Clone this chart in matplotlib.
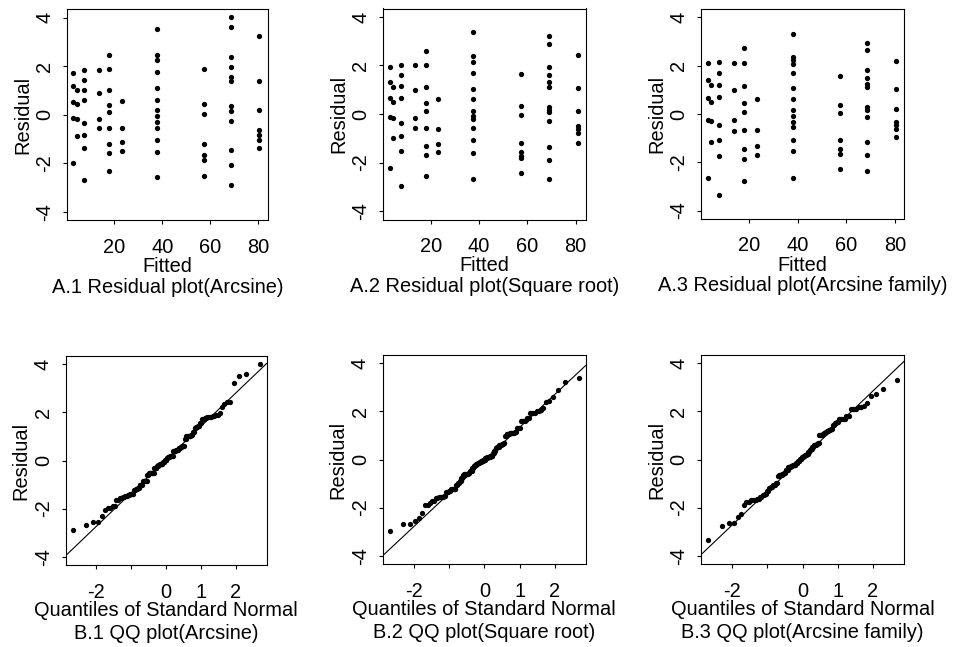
import numpy as np
import matplotlib
matplotlib.use('Agg')
import matplotlib.pyplot as plt
from matplotlib.transforms import offset_copy
from statistics import NormalDist

plt.rcParams['font.family'] = ['Liberation Sans', 'DejaVu Sans']
plt.rcParams['axes.unicode_minus'] = False

# ---------------- data ----------------
# A.1 Arcsine: fitted value of each group, residuals in each group,
# and how many observations sit (overlapping) on each visible dot
fit_a1 = [2.9, 4.3, 7.5, 13.6, 17.8, 23.1, 37.7, 57.4, 68.6, 80.4]
res_a1 = [
    [1.71, 1.17, 0.54, -0.14, -1.97],
    [1.03, 0.43, -0.19, -0.87],
    [1.83, 1.42, 1.03, 0.61, -0.33, -0.84, -1.38, -2.67],
    [1.83, 0.88, -0.16, -0.54],
    [2.45, 1.90, 1.03, 0.41, 0.11, -0.54, -1.20, -1.57, -2.33],
    [0.58, -0.54, -1.14, -1.48],
    [3.53, 2.44, 2.24, 1.76, 1.08, 0.62, 0.19, -0.05, -0.30, -0.54, -1.04, -1.53, -2.56],
    [1.87, 0.45, 0.03, -1.22, -1.65, -1.88, -2.54],
    [4.01, 3.59, 2.37, 1.97, 1.56, 1.37, 0.38, 0.15, -0.24, -1.45, -2.06, -2.90],
    [3.23, 1.40, 0.20, -0.61, -0.84, -1.02, -1.38],
]
cnt_a1 = [
    [2, 2, 3, 3, 2],
    [2, 2, 2, 2],
    [2, 2, 2, 2, 2, 2, 2, 1],
    [2, 2, 2, 2],
    [1, 2, 2, 2, 2, 2, 2, 2, 1],
    [2, 2, 2, 2],
    [1, 1, 1, 2, 2, 2, 2, 3, 2, 2, 2, 2, 1],
    [2, 2, 3, 2, 2, 2, 1],
    [1, 1, 1, 1, 2, 2, 2, 3, 2, 2, 1, 1],
    [1, 2, 3, 2, 2, 2, 2],
]

# A.2 Square root
fit_a2 = [3.2, 4.3, 7.6, 13.4, 17.9, 23.1, 37.6, 57.5, 69.1, 81.1]
res_a2 = [
    [1.92, 1.33, 0.64, -0.11, -2.23],
    [1.12, 0.51, -0.18, -0.97],
    [2.04, 1.60, 1.15, 0.68, -0.36, -0.90, -1.52, -2.96],
    [2.01, 0.97, -0.15, -0.59],
    [2.60, 2.01, 1.11, 0.47, 0.12, -0.59, -1.32, -1.71, -2.55],
    [0.60, -0.62, -1.23, -1.58],
    [3.38, 2.38, 2.15, 1.71, 1.05, 0.62, 0.14, -0.07, -0.21, -0.56, -1.07, -1.59, -2.67],
    [1.63, 0.34, -0.04, -1.21, -1.57, -1.73, -1.82, -2.44],
    [3.22, 2.90, 1.92, 1.60, 1.30, 1.12, 0.27, 0.16, 0.07, -0.27, -1.35, -1.89, -2.67],
    [2.42, 1.08, 0.12, -0.49, -0.63, -0.79, -1.21],
]
cnt_a2 = [
    [2, 2, 2, 3, 1],
    [2, 3, 2, 2],
    [1, 2, 2, 2, 2, 2, 2, 1],
    [1, 2, 3, 2],
    [1, 1, 2, 2, 3, 2, 2, 1, 1],
    [2, 2, 2, 2],
    [1, 1, 1, 2, 2, 2, 2, 3, 2, 2, 2, 2, 1],
    [1, 2, 3, 2, 2, 1, 1, 1],
    [1, 1, 2, 2, 2, 2, 2, 2, 3, 2, 2, 2, 1],
    [1, 2, 2, 3, 2, 2, 2],
]

# A.3 Arcsine family
fit_a3 = [3.1, 4.2, 7.7, 13.7, 17.9, 23.0, 37.9, 57.3, 68.6, 80.2]
res_a3 = [
    [2.10, 1.42, 0.66, -0.23, -2.64],
    [1.20, 0.51, -0.27, -1.17],
    [2.17, 1.69, 1.21, 0.69, -0.44, -1.07, -1.75, -3.37],
    [2.10, 1.00, -0.23, -0.69],
    [2.72, 2.10, 1.14, 0.44, 0.10, -0.66, -1.44, -1.88, -2.78],
    [0.62, -0.65, -1.33, -1.68],
    [3.30, 2.36, 2.23, 2.09, 1.69, 1.07, 0.62, 0.18, -0.07, -0.32, -0.55, -1.06, -1.55, -2.65],
    [1.58, 0.38, 0.03, -1.07, -1.47, -1.65, -2.27],
    [2.93, 2.64, 1.81, 1.51, 1.26, 1.10, 0.30, 0.16, -0.14, -1.14, -1.68, -2.38],
    [2.20, 1.03, 0.21, -0.32, -0.45, -0.62, -0.96],
]
cnt_a3 = [
    [1, 2, 2, 3, 1],
    [2, 2, 2, 2],
    [1, 3, 2, 2, 2, 1, 2, 1],
    [1, 2, 2, 2],
    [1, 1, 2, 2, 3, 2, 2, 1, 1],
    [2, 2, 2, 2],
    [1, 1, 1, 1, 3, 2, 2, 3, 3, 2, 2, 1, 2, 1],
    [2, 2, 3, 1, 2, 2, 1],
    [1, 1, 3, 2, 2, 2, 2, 2, 3, 2, 2, 1],
    [1, 2, 2, 2, 2, 2, 2],
]

# reference lines drawn in the QQ plots (slope, intercept)
qq_slope = [1.389, 1.377, 1.397]
qq_icpt = [0.04, -0.04, 0.06]

titles_a = ["A.1 Residual plot(Arcsine)", "A.2 Residual plot(Square root)",
            "A.3 Residual plot(Arcsine family)"]
titles_b = ["B.1 QQ plot(Arcsine)", "B.2 QQ plot(Square root)",
            "B.3 QQ plot(Arcsine family)"]
xticks_a = [20, 40, 60, 80]
yticks = [-4, -2, 0, 2, 4]
xticks_b = [-2, -1, 0, 1, 2]
xticklabels_b = ["-2", "", "0", "1", "2"]

# ---------------- layout ----------------
W, H = 955, 647
fig = plt.figure(figsize=(W / 100, H / 100), dpi=100)
FS = 14.4
LW = 0.8
MS = 3.8

boxes_a = [(67, 268, 9, 220.5), (383.3, 586, 8.5, 219.5), (701, 904, 9, 219)]
boxes_b = [(65.7, 266.7, 356, 565), (382.7, 586, 355, 564), (701, 904, 355, 564)]
xlims_a = [(0.3, 84.0), (0.4, 84.3), (0.1, 83.7)]
ylim = (-4.35, 4.35)
xlim_b = (-2.88, 2.88)


def make_axes(box):
    l, r, t, b = box
    return fig.add_axes([l / W, 1 - b / H, (r - l) / W, (b - t) / H])


def style(ax, xt, xtl, xlabel, title, tick_pad, lab_dy, tit_dy):
    for s in ax.spines.values():
        s.set_linewidth(LW)
        s.set_color('black')
    ax.set_xticks(xt)
    ax.set_xticklabels(xtl, fontsize=FS)
    ax.set_yticks(yticks)
    ax.set_yticklabels([str(v) for v in yticks], fontsize=FS)
    ax.tick_params(direction='out', length=2.6, width=LW, colors='black')
    ax.tick_params(axis='x', pad=tick_pad)
    ax.tick_params(axis='y', pad=9.6)
    for t in ax.get_xticklabels():
        t.set_va('baseline')
    for t in ax.get_yticklabels():
        t.set_rotation(90)
        t.set_rotation_mode('anchor')
        t.set_ha('center')
        t.set_va('baseline')
    tr = offset_copy(ax.transAxes, fig=fig, x=0, y=-lab_dy, units='points')
    ax.text(0.5, 0, xlabel, transform=tr, ha='center', va='baseline', fontsize=FS)
    tr2 = offset_copy(ax.transAxes, fig=fig, x=0, y=-tit_dy, units='points')
    ax.text(0.5, 0, title, transform=tr2, ha='center', va='baseline', fontsize=FS)
    tr3 = offset_copy(ax.transAxes, fig=fig, x=-28.0, y=0, units='points')
    ax.text(0, 0.5, "Residual", transform=tr3, ha='center', va='baseline',
            rotation=90, rotation_mode='anchor', fontsize=FS)


fits = [fit_a1, fit_a2, fit_a3]
ress = [res_a1, res_a2, res_a3]
cnts = [cnt_a1, cnt_a2, cnt_a3]
nd = NormalDist()

for k in range(3):
    # residual plot
    ax = make_axes(boxes_a[k])
    xs, ys = [], []
    for f, rs in zip(fits[k], ress[k]):
        xs += [f] * len(rs)
        ys += rs
    ax.plot(xs, ys, 'o', color='black', markersize=MS, markeredgewidth=0)
    ax.set_xlim(*xlims_a[k])
    ax.set_ylim(*ylim)
    style(ax, xticks_a, [str(v) for v in xticks_a], "Fitted", titles_a[k],
          20.7, 37.3, 52.0)

    # QQ plot (sorted residuals against normal quantiles)
    ax = make_axes(boxes_b[k])
    allr = np.sort(np.repeat(np.concatenate([np.array(r) for r in ress[k]]),
                             np.concatenate([np.array(c) for c in cnts[k]])))
    n = len(allr)
    p = (np.arange(1, n + 1) - 0.5) / n
    z = np.array([nd.inv_cdf(pi) for pi in p])
    ax.plot(z, allr, 'o', color='black', markersize=MS, markeredgewidth=0)
    ax.axline((0, qq_icpt[k]), slope=qq_slope[k], color='black', lw=LW)
    ax.set_xlim(*xlim_b)
    ax.set_ylim(*ylim)
    style(ax, xticks_b, xticklabels_b, "Quantiles of Standard Normal",
          titles_b[k], 21.2, 36.4, 53.1)

fig.savefig('out.png', dpi=100)
